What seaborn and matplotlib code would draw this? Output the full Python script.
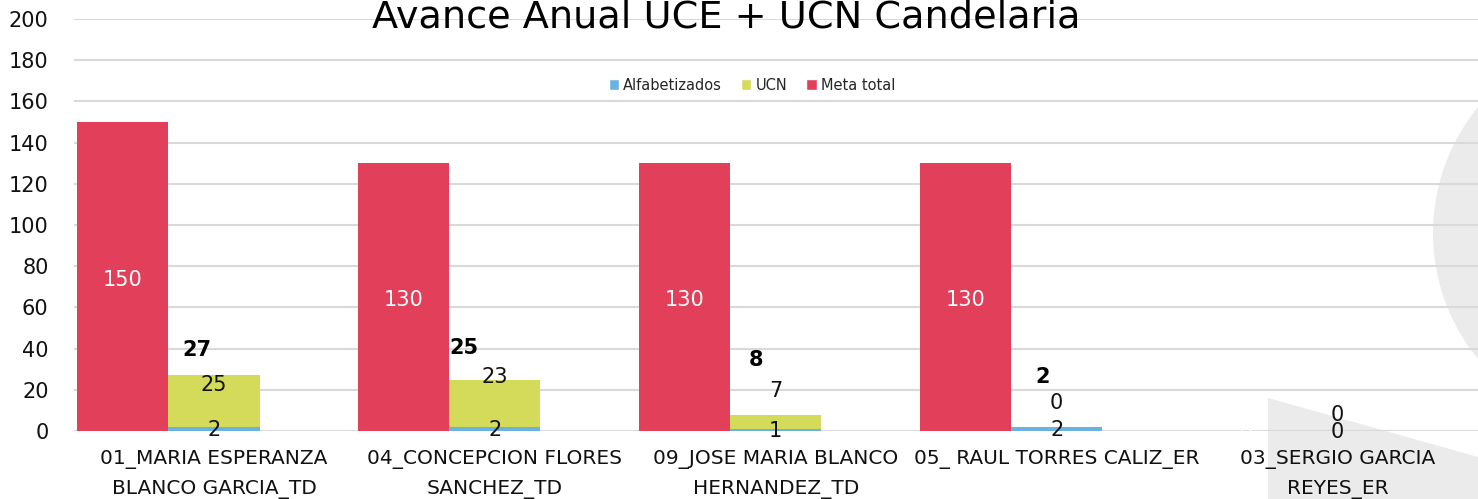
import numpy as np
import pandas as pd
import seaborn as sns
import matplotlib.pyplot as plt
from matplotlib.patches import Ellipse, Polygon, Patch

# --- Data ---
CATEGORIES = [
    "01_MARIA ESPERANZA\nBLANCO GARCIA_TD",
    "04_CONCEPCION FLORES\nSANCHEZ_TD",
    "09_JOSE MARIA BLANCO\nHERNANDEZ_TD",
    "05_ RAUL TORRES CALIZ_ER",
    "03_SERGIO GARCIA\nREYES_ER",
]
ALFABETIZADOS = [2, 2, 1, 2, 0]
UCN = [25, 23, 7, 0, 0]
META_TOTAL = [150, 130, 130, 130, 0]

# hand-placed label heights (as in the original sheet)
UCN_LABEL_Y = [22.3, 26.2, 19.2, 13.6, 7.8]
TOTAL_LABEL_Y = [39.3, 40.3, 34.5, 26.2, 7.8]
TOTAL_LABEL_DX = [-0.06, -0.11, -0.07, -0.05, 0.0]

# --- Style ---
RED = "#E2405A"
YELLOW = "#D4DB5A"
BLUE = "#6CB2E0"
GRID = "#D9D9D9"
SHAPE = "#EBEBEB"
SLOTS = ["meta", "stack", "empty"]

sns.set_theme(style="white")
plt.rcParams['font.family'] = ['DejaVu Sans']

totals = [a + u for a, u in zip(ALFABETIZADOS, UCN)]
zeros = [0] * len(CATEGORIES)

base = pd.DataFrame({
    "category": CATEGORIES * 3,
    "slot": ["meta"] * 5 + ["stack"] * 5 + ["empty"] * 5,
    "value": META_TOTAL + totals + zeros,
})
top = pd.DataFrame({
    "category": CATEGORIES * 3,
    "slot": ["meta"] * 5 + ["stack"] * 5 + ["empty"] * 5,
    "value": zeros + ALFABETIZADOS + zeros,
})

fig = plt.figure(figsize=(14.78, 4.99), dpi=100)
fig.patch.set_facecolor("white")

# decorative background shapes (behind the axes)
bg = fig.add_axes([0, 0, 1, 1], zorder=-5)
bg.set_axis_off()
bg.set_xlim(0, 1)
bg.set_ylim(0, 1)
bg.add_patch(Ellipse((1632 / 1478, 1 - 233 / 499), 2 * 199 / 1478, 2 * 199 / 499,
                     facecolor=SHAPE, edgecolor="none"))
bg.add_patch(Polygon([(1268 / 1478, 1 - 398 / 499), (1.0, 1 - 457 / 499),
                      (1.0, 0.0), (1268 / 1478, 0.0)],
                     closed=True, facecolor=SHAPE, edgecolor="none"))

ax = fig.add_axes([73.5 / 1478, 1 - 431 / 499, 1 - 73.5 / 1478, (431 - 19) / 499], zorder=1)
ax.set_facecolor("none")

sns.barplot(data=base, x="category", y="value", hue="slot", hue_order=SLOTS,
            palette={"meta": RED, "stack": YELLOW, "empty": "white"},
            width=0.975, errorbar=None, linewidth=0, saturation=1,
            legend=False, ax=ax, zorder=3)
sns.barplot(data=top, x="category", y="value", hue="slot", hue_order=SLOTS,
            palette={"meta": RED, "stack": BLUE, "empty": "white"},
            width=0.975, errorbar=None, linewidth=0, saturation=1,
            legend=False, ax=ax, zorder=4)

ax.set_ylim(0, 200)
ax.set_xlim(-0.5, 4.5)
ax.set_yticks(np.arange(0, 201, 20))
ax.yaxis.grid(True, color=GRID, linewidth=1.5, zorder=0)
ax.set_axisbelow(True)
for s in ax.spines.values():
    s.set_visible(False)
ax.set_xlabel("")
ax.set_ylabel("")
ax.tick_params(axis="y", length=0, pad=18, labelsize=15, labelcolor="#111111")
ax.tick_params(axis="x", length=0, pad=14, labelsize=14.5, labelcolor="#111111")
for lbl in ax.get_xticklabels():
    lbl.set_linespacing(1.65)

# --- Data labels ---
meta_bars = ax.containers[0]
stack_bars = ax.containers[1]
for i, (bm, bs) in enumerate(zip(meta_bars, stack_bars)):
    xm = bm.get_x() + bm.get_width() / 2
    xs = bs.get_x() + bs.get_width() / 2
    ax.text(xm, META_TOTAL[i] / 2 - 1.5, str(META_TOTAL[i]), ha="center", va="center",
            color="white", fontsize=15, zorder=6)
    ax.text(xs, ALFABETIZADOS[i] / 2 - 0.5, str(ALFABETIZADOS[i]), ha="center",
            va="center", color="#111111", fontsize=15, zorder=6)
    ax.text(xs, UCN_LABEL_Y[i], str(UCN[i]), ha="center", va="center",
            color="#111111", fontsize=15, zorder=6)
    if totals[i] > 0:
        ax.text(xs + TOTAL_LABEL_DX[i], TOTAL_LABEL_Y[i], str(totals[i]), ha="center",
                va="center", color="black", fontsize=15, fontweight="bold", zorder=6)

# --- Title and legend ---
fig.text(726 / 1478, 1 - 18 / 499, "Avance Anual UCE + UCN Candelaria",
         ha="center", va="center", fontsize=27.5, color="black")
handles = [Patch(facecolor=BLUE, label="Alfabetizados"),
           Patch(facecolor=YELLOW, label="UCN"),
           Patch(facecolor=RED, label="Meta total")]
fig.legend(handles=handles, loc="center", bbox_to_anchor=(752 / 1478, 1 - 85 / 499),
           ncol=3, frameon=False, fontsize=10.5, handlelength=0.7, handleheight=0.7,
           handletextpad=0.3, columnspacing=1.3)

fig.savefig("out.png", dpi=100)
